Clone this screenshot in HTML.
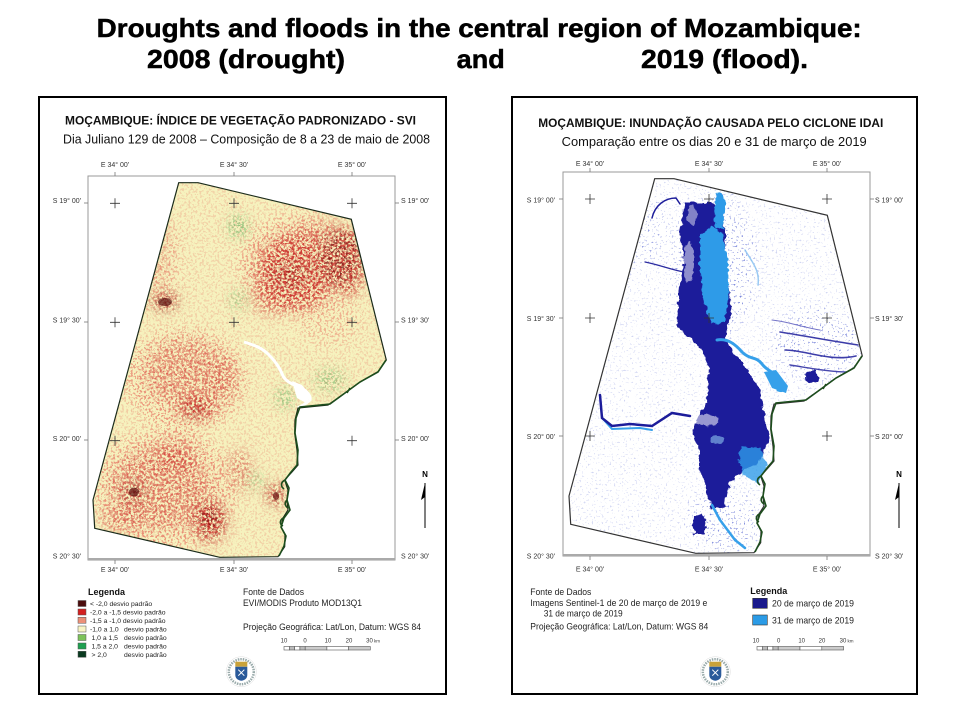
<!DOCTYPE html>
<html><head><meta charset="utf-8"><style>
html,body{margin:0;padding:0;background:#fff;}
svg{display:block;}
text{font-family:"Liberation Sans",sans-serif;}
</style></head><body>
<svg width="960" height="720" viewBox="0 0 960 720" xmlns="http://www.w3.org/2000/svg">
<defs>
<path id="poly" d="M178.7,182.7 L198,182.7 L351.3,219.3 L386.3,360 L378,371.7 L360,382 L345,393 L328,405 L298,408 L295,420 L294.7,433.3 L297,450 L298,465 L292,472 L284.7,480 L288,490 L287,500 L288,510 L283,518 L281,527 L285,535 L284.7,546.7 L278,556.7 L219.7,557.3 L94.7,528.3 L93,500 Z"/>
<clipPath id="clipL"><use href="#poly"/></clipPath>
<clipPath id="clipR"><use href="#poly" transform="translate(476,-4)"/></clipPath>
<filter id="blur6" x="-50%" y="-50%" width="200%" height="200%"><feGaussianBlur stdDeviation="7"/></filter>
<filter id="fPink" filterUnits="userSpaceOnUse" x="88" y="176" width="310" height="385" color-interpolation-filters="sRGB">
 <feTurbulence type="fractalNoise" baseFrequency="0.45" numOctaves="2" seed="4"/>
 <feColorMatrix type="matrix" values="0 0 0 0 0.92  0 0 0 0 0.58  0 0 0 0 0.48  9 0 0 0 -4.6"/>
</filter>
<filter id="fRed" filterUnits="userSpaceOnUse" x="88" y="176" width="310" height="385" color-interpolation-filters="sRGB">
 <feTurbulence type="fractalNoise" baseFrequency="0.38" numOctaves="3" seed="11"/>
 <feColorMatrix type="matrix" values="0 0 0 0 0.80  0 0 0 0 0.20  0 0 0 0 0.18  9 0 0 0 -4.3"/>
</filter>
<filter id="fDark" filterUnits="userSpaceOnUse" x="88" y="176" width="310" height="385" color-interpolation-filters="sRGB">
 <feTurbulence type="fractalNoise" baseFrequency="0.45" numOctaves="2" seed="23"/>
 <feColorMatrix type="matrix" values="0 0 0 0 0.45  0 0 0 0 0.05  0 0 0 0 0.05  10 0 0 0 -5.2"/>
</filter>
<filter id="fGreen" filterUnits="userSpaceOnUse" x="88" y="176" width="310" height="385" color-interpolation-filters="sRGB">
 <feTurbulence type="fractalNoise" baseFrequency="0.45" numOctaves="2" seed="31"/>
 <feColorMatrix type="matrix" values="0 0 0 0 0.2  0 0 0 0 0.6  0 0 0 0 0.25  9 0 0 0 -4.3"/>
</filter>
<filter id="fBlue" filterUnits="userSpaceOnUse" x="563" y="172" width="310" height="385" color-interpolation-filters="sRGB">
 <feTurbulence type="fractalNoise" baseFrequency="0.5" numOctaves="2" seed="5"/>
 <feColorMatrix type="matrix" values="0 0 0 0 0.45  0 0 0 0 0.5  0 0 0 0 0.85  12 0 0 0 -7.8"/>
</filter>
<filter id="rough" x="-10%" y="-10%" width="120%" height="120%">
 <feTurbulence type="fractalNoise" baseFrequency="0.18" numOctaves="2" seed="3" result="t"/>
 <feDisplacementMap in="SourceGraphic" in2="t" scale="6" xChannelSelector="R" yChannelSelector="G"/>
</filter>
<mask id="mPink" maskUnits="userSpaceOnUse" x="0" y="0" width="960" height="720">
 <rect x="0" y="0" width="960" height="720" fill="#555"/>
 <g filter="url(#blur6)" fill="#fff">
  <ellipse cx="300" cy="265" rx="60" ry="50"/>
  <ellipse cx="185" cy="380" rx="60" ry="50"/>
  <ellipse cx="165" cy="490" rx="70" ry="60"/>
  <ellipse cx="150" cy="260" rx="30" ry="50" fill-opacity=".6"/>
  <ellipse cx="330" cy="320" rx="30" ry="25" fill-opacity=".5"/>
 </g>
</mask>
<mask id="mRed" maskUnits="userSpaceOnUse" x="0" y="0" width="960" height="720">
 <g filter="url(#blur6)" fill="#fff">
  <ellipse cx="295" cy="272" rx="40" ry="38" fill-opacity=".9"/>
  <ellipse cx="350" cy="262" rx="15" ry="35" fill-opacity=".9"/>
  <ellipse cx="320" cy="235" rx="30" ry="13" fill-opacity=".5"/>
  <ellipse cx="270" cy="300" rx="20" ry="15" fill-opacity=".5"/>
  <ellipse cx="185" cy="372" rx="40" ry="32" fill-opacity=".45"/>
  <ellipse cx="197" cy="408" rx="20" ry="10"/>
  <ellipse cx="225" cy="380" rx="12" ry="22" fill-opacity=".5"/>
  <ellipse cx="160" cy="488" rx="50" ry="40" fill-opacity=".5"/>
  <ellipse cx="210" cy="522" rx="16" ry="20"/>
  <ellipse cx="175" cy="455" rx="22" ry="15" fill-opacity=".6"/>
  <ellipse cx="240" cy="470" rx="12" ry="22" fill-opacity=".5"/>
  <ellipse cx="120" cy="520" rx="22" ry="12" fill-opacity=".5"/>
  <ellipse cx="150" cy="250" rx="20" ry="40" fill-opacity=".25"/>
  <ellipse cx="165" cy="300" rx="13" ry="8" fill-opacity=".8"/>
  <ellipse cx="276" cy="494" rx="9" ry="11" fill-opacity=".9"/>
 </g>
</mask>
<mask id="mDark" maskUnits="userSpaceOnUse" x="0" y="0" width="960" height="720">
 <g filter="url(#blur6)" fill="#fff">
  <ellipse cx="340" cy="258" rx="22" ry="28" fill-opacity=".7"/>
  <ellipse cx="290" cy="275" rx="18" ry="13" fill-opacity=".5"/>
  <ellipse cx="134" cy="492" rx="10" ry="8"/>
  <ellipse cx="165" cy="302" rx="12" ry="6"/>
  <ellipse cx="210" cy="520" rx="12" ry="15" fill-opacity=".8"/>
  <ellipse cx="276" cy="496" rx="6" ry="7"/>
  <ellipse cx="195" cy="410" rx="12" ry="6" fill-opacity=".6"/>
 </g>
</mask>
<mask id="mGreen" maskUnits="userSpaceOnUse" x="0" y="0" width="960" height="720">
 <g filter="url(#blur6)" fill="#fff">
  <ellipse cx="238" cy="227" rx="7" ry="9"/>
  <ellipse cx="238" cy="300" rx="4" ry="9"/>
  <ellipse cx="285" cy="398" rx="6" ry="8"/>
  <ellipse cx="256" cy="481" rx="5" ry="5"/>
  <ellipse cx="330" cy="380" rx="15" ry="10" fill-opacity=".5"/>
 </g>
</mask>
<mask id="mBlue" maskUnits="userSpaceOnUse" x="0" y="0" width="960" height="720">
 <rect x="0" y="0" width="960" height="720" fill="#555"/>
 <g filter="url(#blur6)" fill="#fff">
  <ellipse cx="820" cy="345" rx="45" ry="35"/>
  <ellipse cx="715" cy="265" rx="40" ry="70"/>
  <ellipse cx="725" cy="520" rx="35" ry="30"/>
  <ellipse cx="640" cy="230" rx="25" ry="35" fill-opacity=".6"/>
 </g>
</mask>
</defs>

<rect x="0" y="0" width="960" height="720" fill="#fff"/>

<!-- main title -->
<g stroke="#000" stroke-width="0.5" fill="#000" font-size="26" font-weight="bold">
<text x="96.7" y="37" textLength="765" lengthAdjust="spacingAndGlyphs">Droughts and floods in the central region of Mozambique:</text>
<text x="147" y="68" textLength="198" lengthAdjust="spacingAndGlyphs">2008 (drought)</text>
<text x="456.7" y="68" textLength="48" lengthAdjust="spacingAndGlyphs">and</text>
<text x="641" y="68" textLength="167" lengthAdjust="spacingAndGlyphs">2019 (flood).</text>
</g>

<!-- panel frames -->
<rect x="39" y="97" width="407" height="597" fill="#fff" stroke="#000" stroke-width="2"/>
<rect x="512" y="97" width="405" height="597" fill="#fff" stroke="#000" stroke-width="2"/>

<!-- ================= LEFT PANEL ================= -->
<text x="65" y="124.5" font-size="12" font-weight="bold" textLength="351" lengthAdjust="spacingAndGlyphs" fill="#111">MOÇAMBIQUE: ÍNDICE DE VEGETAÇÃO PADRONIZADO - SVI</text>
<text x="63" y="143.5" font-size="12.5" textLength="367" lengthAdjust="spacingAndGlyphs" fill="#111">Dia Juliano 129 de 2008 – Composição de 8 a 23 de maio de 2008</text>

<g font-size="7" fill="#333">
 <text x="115" y="167" text-anchor="middle">E 34° 00'</text>
 <text x="234" y="167" text-anchor="middle">E 34° 30'</text>
 <text x="352" y="167" text-anchor="middle">E 35° 00'</text>
 <text x="115" y="572" text-anchor="middle">E 34° 00'</text>
 <text x="234" y="572" text-anchor="middle">E 34° 30'</text>
 <text x="352" y="572" text-anchor="middle">E 35° 00'</text>
 <text x="81" y="203" text-anchor="end">S 19° 00'</text>
 <text x="81" y="322.5" text-anchor="end">S 19° 30'</text>
 <text x="81" y="441" text-anchor="end">S 20° 00'</text>
 <text x="81" y="558.5" text-anchor="end">S 20° 30'</text>
 <text x="401" y="203">S 19° 00'</text>
 <text x="401" y="322.5">S 19° 30'</text>
 <text x="401" y="441">S 20° 00'</text>
 <text x="401" y="558.5">S 20° 30'</text>
</g>
<rect x="88" y="176" width="307" height="384" fill="none" stroke="#999" stroke-width="1"/>
<line x1="88" y1="559" x2="395" y2="559" stroke="#aaa" stroke-width="2"/>
<g stroke="#777" stroke-width="0.8">
 <line x1="115" y1="172" x2="115" y2="176"/><line x1="234" y1="172" x2="234" y2="176"/><line x1="352" y1="172" x2="352" y2="176"/>
 <line x1="115" y1="560" x2="115" y2="564"/><line x1="234" y1="560" x2="234" y2="564"/><line x1="352" y1="560" x2="352" y2="564"/>
 <line x1="84" y1="203" x2="88" y2="203"/><line x1="84" y1="322" x2="88" y2="322"/><line x1="84" y1="440" x2="88" y2="440"/>
 <line x1="395" y1="203" x2="399" y2="203"/><line x1="395" y1="322" x2="399" y2="322"/><line x1="395" y1="440" x2="399" y2="440"/>
</g>

<g clip-path="url(#clipL)">
 <rect x="88" y="176" width="310" height="385" fill="#f6f2be"/>
 <rect x="88" y="176" width="310" height="385" filter="url(#fPink)" mask="url(#mPink)"/>
 <rect x="88" y="176" width="310" height="385" filter="url(#fRed)" mask="url(#mRed)"/>
 <rect x="88" y="176" width="310" height="385" filter="url(#fDark)" mask="url(#mDark)"/>
 <rect x="88" y="176" width="310" height="385" filter="url(#fGreen)" mask="url(#mGreen)"/>
 <ellipse cx="165" cy="302" rx="7" ry="4" fill="#5a0e0e" opacity=".7"/>
 <ellipse cx="134" cy="492" rx="5" ry="4.5" fill="#5a0e0e" opacity=".7"/>
 <ellipse cx="276" cy="496" rx="3" ry="4" fill="#6a1010" opacity=".7"/>
 <path d="M244,342 C254,345 262,348 268,354 C274,360 279,366 283,376 C287,383 295,385 301,388 C307,391 311,396 310,400 C306,404 301,406 298,408" fill="none" stroke="#fff" stroke-width="3"/>
 <path d="M292,381 L302,385 L311,396 L306,403 L297,398 Z" fill="#fff"/>
</g>
<use href="#poly" fill="none" stroke="#1b2b1b" stroke-width="1.2"/>
<path d="M386,360 L378,372 L360,382 L345,393 L330,404 L300,407 L296,418 L295,433 L298,450 L297,465 L291,472 L285,480 L289,488 L287,500 L290,510 L284,518 L281,527 L286,536 L284,546 L279,556 M285,480 c-4,2 -5,6 -1,9 M287,500 c-3,3 -2,6 1,8 M283,518 c-3,2 -4,6 0,8 M350,388 l-3,5" fill="none" stroke="#1d4d1d" stroke-width="1.6"/>

<g stroke="#333" stroke-width="0.8">
 <path d="M110,203.3h10M115,198.3v10 M229,203.3h10M234,198.3v10 M347,203.3h10M352,198.3v10 M110,322.3h10M115,317.3v10 M229,322.3h10M234,317.3v10 M347,322.3h10M352,317.3v10 M110,440.7h10M115,435.7v10 M347,440.7h10M352,435.7v10"/>
</g>

<text x="425" y="477" font-size="8" font-weight="bold" text-anchor="middle">N</text>
<line x1="425" y1="483" x2="425" y2="528" stroke="#000" stroke-width="1"/>
<path d="M425,483 L421,500 L425,497 Z" fill="#000"/>

<!-- left legend -->
<text x="88" y="595" font-size="9" font-weight="bold" fill="#111">Legenda</text>
<g stroke="#555" stroke-width="0.5">
 <rect x="78" y="600.5" width="8" height="6" fill="#4a0c0c"/>
 <rect x="78" y="609" width="8" height="6" fill="#d42020"/>
 <rect x="78" y="617.3" width="8" height="6" fill="#ec9078"/>
 <rect x="78" y="626" width="8" height="6" fill="#f8f4c4"/>
 <rect x="78" y="634.5" width="8" height="6" fill="#7cc25a"/>
 <rect x="78" y="643" width="8" height="6" fill="#1ea050"/>
 <rect x="78" y="651.3" width="8" height="6" fill="#0a3a20"/>
</g>
<g font-size="6.8" fill="#222">
 <text x="90" y="606">&lt; -2,0 desvio padrão</text>
 <text x="90" y="614.5">-2,0 a -1,5 desvio padrão</text>
 <text x="90" y="623">-1,5 a -1,0 desvio padrão</text>
 <text x="90" y="631.5">-1,0 a 1,0</text><text x="124" y="631.5">desvio padrão</text>
 <text x="91.5" y="640">1,0 a 1,5</text><text x="124" y="640">desvio padrão</text>
 <text x="91.5" y="648.5">1,5 a 2,0</text><text x="124" y="648.5">desvio padrão</text>
 <text x="91.5" y="657">&gt; 2,0</text><text x="124" y="657">desvio padrão</text>
</g>
<g font-size="9.5" fill="#222">
 <text x="243" y="595" textLength="61" lengthAdjust="spacingAndGlyphs">Fonte de Dados</text>
 <text x="243" y="606" textLength="119" lengthAdjust="spacingAndGlyphs">EVI/MODIS Produto  MOD13Q1</text>
 <text x="243" y="630" textLength="178" lengthAdjust="spacingAndGlyphs">Projeção Geográfica: Lat/Lon, Datum: WGS 84</text>
</g>
<g font-size="6" fill="#333">
 <text x="284" y="642.7" text-anchor="middle">10</text>
 <text x="305" y="642.7" text-anchor="middle">0</text>
 <text x="328" y="642.7" text-anchor="middle">10</text>
 <text x="349" y="642.7" text-anchor="middle">20</text>
 <text x="369.5" y="642.7" text-anchor="middle">30</text>
 <text x="374" y="642.7" font-size="4.5">km</text>
</g>
<g stroke="#555" stroke-width="0.6">
 <rect x="284" y="646.5" width="5.3" height="3.5" fill="#fff"/>
 <rect x="289.3" y="646.5" width="5.3" height="3.5" fill="#bbb"/>
 <rect x="294.6" y="646.5" width="5.3" height="3.5" fill="#fff"/>
 <rect x="299.9" y="646.5" width="5.3" height="3.5" fill="#bbb"/>
 <rect x="305.2" y="646.5" width="21.7" height="3.5" fill="#ccc"/>
 <rect x="326.9" y="646.5" width="21.7" height="3.5" fill="#fff"/>
 <rect x="348.6" y="646.5" width="21.7" height="3.5" fill="#ccc"/>
</g>
<!-- logo left -->
<g transform="translate(241.3,671.7)">
 <circle r="15" fill="#fff" stroke="#ddd" stroke-width="0.5"/>
 <circle r="12.5" fill="none" stroke="#9aa" stroke-width="2.5" stroke-dasharray="1.5 1"/>
 <rect x="-6" y="-10" width="12" height="5" fill="#c9a23a"/>
 <path d="M-6,-5 H6 V3 Q6,8 0,9 Q-6,8 -6,3 Z" fill="#2a5a9a"/>
 <path d="M-3,-2 L3,4 M3,-2 L-3,4" stroke="#fff" stroke-width="1"/>
</g>

<!-- ================= RIGHT PANEL ================= -->
<text x="538.3" y="127" font-size="12" font-weight="bold" textLength="345" lengthAdjust="spacingAndGlyphs" fill="#111">MOÇAMBIQUE: INUNDAÇÃO CAUSADA PELO CICLONE IDAI</text>
<text x="561.7" y="146" font-size="12.5" textLength="305" lengthAdjust="spacingAndGlyphs" fill="#111">Comparação entre os dias 20 e 31 de março de 2019</text>

<g font-size="7" fill="#333">
 <text x="590" y="166" text-anchor="middle">E 34° 00'</text>
 <text x="709" y="166" text-anchor="middle">E 34° 30'</text>
 <text x="827" y="166" text-anchor="middle">E 35° 00'</text>
 <text x="590" y="571.5" text-anchor="middle">E 34° 00'</text>
 <text x="709" y="571.5" text-anchor="middle">E 34° 30'</text>
 <text x="827" y="571.5" text-anchor="middle">E 35° 00'</text>
 <text x="555" y="202.5" text-anchor="end">S 19° 00'</text>
 <text x="555" y="321" text-anchor="end">S 19° 30'</text>
 <text x="555" y="439" text-anchor="end">S 20° 00'</text>
 <text x="555" y="558.5" text-anchor="end">S 20° 30'</text>
 <text x="875" y="202.5">S 19° 00'</text>
 <text x="875" y="321">S 19° 30'</text>
 <text x="875" y="439">S 20° 00'</text>
 <text x="875" y="558.5">S 20° 30'</text>
</g>
<rect x="563" y="172" width="307" height="384" fill="none" stroke="#999" stroke-width="1"/>
<line x1="563" y1="555" x2="870" y2="555" stroke="#aaa" stroke-width="2"/>
<g stroke="#777" stroke-width="0.8">
 <line x1="590" y1="168" x2="590" y2="172"/><line x1="709" y1="168" x2="709" y2="172"/><line x1="827" y1="168" x2="827" y2="172"/>
 <line x1="590" y1="556" x2="590" y2="560"/><line x1="709" y1="556" x2="709" y2="560"/><line x1="827" y1="556" x2="827" y2="560"/>
 <line x1="559" y1="199" x2="563" y2="199"/><line x1="559" y1="318" x2="563" y2="318"/><line x1="559" y1="436" x2="563" y2="436"/>
 <line x1="870" y1="199" x2="874" y2="199"/><line x1="870" y1="318" x2="874" y2="318"/><line x1="870" y1="436" x2="874" y2="436"/>
</g>

<g clip-path="url(#clipR)">
 <rect x="563" y="172" width="310" height="385" fill="#fff"/>
 <rect x="563" y="172" width="310" height="385" filter="url(#fBlue)" mask="url(#mBlue)"/>
 <g filter="url(#rough)">
  <path d="M685,203 L680,233 L684,260 L679,290 L677,327 L689,337 L702,350 L709,367 L707,403 L699,413 L692,433 L699,450 L699,470 L705,483 L710,503 L712,510 L725,507 L729,483 L745,470 L759,463 L765,450 L769,437 L765,420 L762,403 L760,390 L752,377 L742,363 L732,350 L725,337 L729,320 L732,307 L729,290 L725,260 L725,233 L722,213 L712,203 Z" fill="#1c1c9a"/>
  <path d="M700,236 L712,226 L722,233 L728,262 L729,300 L724,322 L712,324 L704,302 L700,270 Z" fill="#2e9be8"/>
  <path d="M716,193 L722,192 L725,205 L723,230 L716,228 L714,210 Z" fill="#2e9be8"/>
  <path d="M742,445 L760,448 L767,465 L758,483 L745,478 L738,460 Z" fill="#2e9be8" opacity=".8"/>
  <path d="M694,516 L703,514 L706,525 L704,535 L695,535 L692,525 Z" fill="#1c1c9a"/>
  <ellipse cx="812" cy="377" rx="7" ry="6" fill="#1c1c9a"/>
  <ellipse cx="689" cy="262" rx="5" ry="20" fill="#fff" opacity=".5"/>
  <ellipse cx="692" cy="215" rx="5" ry="10" fill="#fff" opacity=".45"/>
  <ellipse cx="705" cy="420" rx="14" ry="6" fill="#fff" opacity=".55"/>
  <ellipse cx="718" cy="440" rx="8" ry="4" fill="#8fc4f0" opacity=".6"/>
 </g>
 <g fill="none" stroke-linecap="round">
  <path d="M717,340 C728,338 736,345 742,352 C750,360 756,356 762,364 C768,372 776,372 782,382 C786,388 784,392 778,390" stroke="#36a0ea" stroke-width="3"/>
  <path d="M764,372 L776,370 L788,386 L786,393 L772,388 Z" fill="#36a0ea" stroke="none"/>
  <path d="M712,505 L720,520 L735,540 L745,548" stroke="#36a0ea" stroke-width="2.5"/>
  <path d="M603,419 L612,429 L640,428 L652,430" stroke="#36a0ea" stroke-width="2"/>
  <path d="M600,395 L602,418 L612,426 L630,424 L652,426 L672,413 L690,416" stroke="#1c1c9a" stroke-width="2.5"/>
  <path d="M652,218 C655,205 665,198 676,198 L680,204" stroke="#1c1c9a" stroke-width="1.5"/>
  <path d="M645,262 C660,265 672,270 684,272" stroke="#2a2aa0" stroke-width="1.2"/>
  <path d="M780,332 C800,335 825,340 858,345" stroke="#1c1c9a" stroke-width="1.6" opacity=".85"/>
  <path d="M785,350 C805,350 830,362 856,356" stroke="#1c1c9a" stroke-width="1.6" opacity=".85"/>
  <path d="M790,365 C810,368 830,372 850,372" stroke="#1c1c9a" stroke-width="1.4" opacity=".8"/>
  <path d="M772,320 C790,322 805,328 820,330" stroke="#3a3ab0" stroke-width="1" opacity=".7"/>
  <path d="M745,250 C752,262 760,270 758,285" stroke="#6fb4ee" stroke-width="1.5" opacity=".7"/>
 </g>
</g>
<use href="#poly" transform="translate(476,-4)" fill="none" stroke="#333" stroke-width="1.2"/>
<path d="M386,360 L378,372 L360,382 L345,393 L330,404 L300,407 L296,418 L295,433 L298,450 L297,465 L291,472 L285,480 L289,488 L287,500 L290,510 L284,518 L281,527 L286,536 L284,546 L279,556 M285,480 c-4,2 -5,6 -1,9 M287,500 c-3,3 -2,6 1,8 M283,518 c-3,2 -4,6 0,8 M350,388 l-3,5" transform="translate(476,-4)" fill="none" stroke="#1d4d1d" stroke-width="1.6"/>

<g stroke="#333" stroke-width="0.8">
 <path d="M585,199h10M590,194v10 M704,199h10M709,194v10 M822,199h10M827,194v10 M585,318h10M590,313v10 M704,318h10M709,313v10 M822,318h10M827,313v10 M585,436h10M590,431v10 M822,436h10M827,431v10"/>
</g>

<text x="899" y="477" font-size="8" font-weight="bold" text-anchor="middle">N</text>
<line x1="899" y1="483" x2="899" y2="528" stroke="#000" stroke-width="1"/>
<path d="M899,483 L895,500 L899,497 Z" fill="#000"/>

<!-- right legend -->
<g font-size="9.5" fill="#222">
 <text x="530.3" y="595" textLength="61" lengthAdjust="spacingAndGlyphs">Fonte de Dados</text>
 <text x="530.3" y="606" textLength="177" lengthAdjust="spacingAndGlyphs">Imagens Sentinel-1 de 20 de março de 2019 e</text>
 <text x="543.7" y="616.5" textLength="79" lengthAdjust="spacingAndGlyphs">31 de março de 2019</text>
 <text x="530.3" y="629.5" textLength="178" lengthAdjust="spacingAndGlyphs">Projeção Geográfica: Lat/Lon, Datum: WGS 84</text>
</g>
<text x="750.3" y="594" font-size="9" font-weight="bold" fill="#111">Legenda</text>
<rect x="752.7" y="598.3" width="14.6" height="10" fill="#1a1a8c" stroke="#333" stroke-width="0.6"/>
<rect x="752.7" y="615" width="14.6" height="10" fill="#2b9be6" stroke="#333" stroke-width="0.6"/>
<text x="772" y="606.5" font-size="9.5" fill="#222" textLength="82" lengthAdjust="spacingAndGlyphs">20 de março de 2019</text>
<text x="772" y="623.5" font-size="9.5" fill="#222" textLength="82" lengthAdjust="spacingAndGlyphs">31 de março de 2019</text>
<g font-size="6" fill="#333">
 <text x="756" y="642.7" text-anchor="middle">10</text>
 <text x="778.7" y="642.7" text-anchor="middle">0</text>
 <text x="801.7" y="642.7" text-anchor="middle">10</text>
 <text x="822" y="642.7" text-anchor="middle">20</text>
 <text x="843" y="642.7" text-anchor="middle">30</text>
 <text x="847.5" y="642.7" font-size="4.5">km</text>
</g>
<g stroke="#555" stroke-width="0.6">
 <rect x="757" y="646.5" width="5.3" height="3.5" fill="#fff"/>
 <rect x="762.3" y="646.5" width="5.3" height="3.5" fill="#bbb"/>
 <rect x="767.6" y="646.5" width="5.3" height="3.5" fill="#fff"/>
 <rect x="772.9" y="646.5" width="5.3" height="3.5" fill="#bbb"/>
 <rect x="778.2" y="646.5" width="21.8" height="3.5" fill="#ccc"/>
 <rect x="800" y="646.5" width="21.8" height="3.5" fill="#fff"/>
 <rect x="821.8" y="646.5" width="21.8" height="3.5" fill="#ccc"/>
</g>
<g transform="translate(715.3,671.7)">
 <circle r="15" fill="#fff" stroke="#ddd" stroke-width="0.5"/>
 <circle r="12.5" fill="none" stroke="#9aa" stroke-width="2.5" stroke-dasharray="1.5 1"/>
 <rect x="-6" y="-10" width="12" height="5" fill="#c9a23a"/>
 <path d="M-6,-5 H6 V3 Q6,8 0,9 Q-6,8 -6,3 Z" fill="#2a5a9a"/>
 <path d="M-3,-2 L3,4 M3,-2 L-3,4" stroke="#fff" stroke-width="1"/>
</g>
</svg>
</body></html>
